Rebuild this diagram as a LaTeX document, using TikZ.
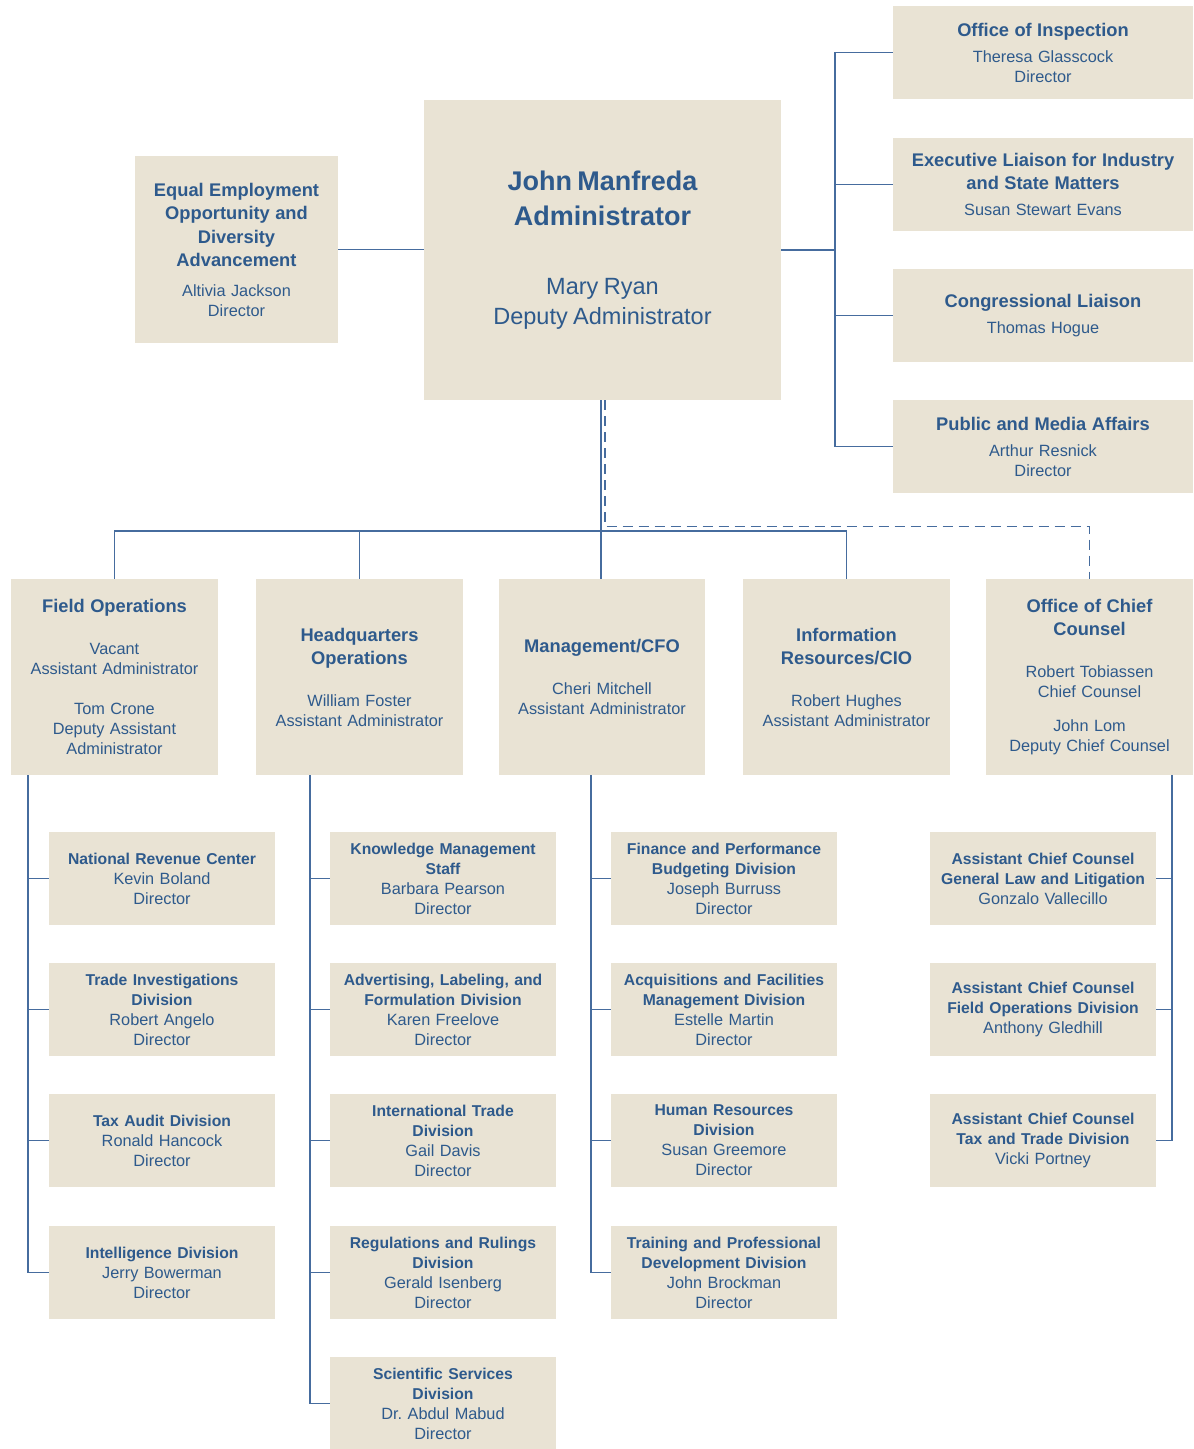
\documentclass[tikz,border=0pt]{standalone}
\usepackage{fontspec}
\setmainfont{Liberation Sans}
\usetikzlibrary{calc}
\definecolor{boxfill}{RGB}{233,227,212}
\definecolor{txtblue}{RGB}{46,90,140}
\definecolor{lnblue}{RGB}{70,108,158}
\newcommand\bodyfont{\fontsize{16.3bp}{20bp}\selectfont}
\newcommand\subhd[1]{{\fontsize{15.7bp}{20bp}\selectfont\bfseries #1}}
\newcommand\midhd[2]{{\fontsize{18.3bp}{23.5bp}\selectfont\bfseries #1\par}\vspace{#2}}
\begin{document}
\begin{tikzpicture}[x=1bp,y=-1bp,
  box/.style={fill=boxfill, text=txtblue, inner sep=0pt, align=center, font=\bodyfont},
  sz/.style 2 args={text width=#1bp, minimum height=#2bp},
  conn/.style={draw=lnblue, line width=1.4bp},
  dconn/.style={conn, dash pattern=on 10bp off 6bp}]
\useasboundingbox (0,0) rectangle (1193,1449);

% top row
\node[box, sz={357}{300}] (admin) at (602.5,250) {{\fontsize{27bp}{35bp}\selectfont\bfseries John Manfreda\\Administrator\par}\vspace{39bp}{\fontsize{23.5bp}{30bp}\selectfont Mary Ryan\\Deputy Administrator\par}};
\node[box, sz={203}{187}] (eeo) at (236.5,249.5) {\midhd{Equal Employment\\Opportunity and\\Diversity\\Advancement}{9.5bp}Altivia Jackson\\Director};
\node[box, sz={300}{93}] (insp) at (1043,52.5) {\midhd{Office of Inspection}{6bp}Theresa Glasscock\\Director};
\node[box, sz={300}{93}] (exec) at (1043,184.5) {\midhd{Executive Liaison for Industry\\and State Matters}{6bp}Susan Stewart Evans};
\node[box, sz={300}{93}] (cong) at (1043,315.5) {\midhd{Congressional Liaison}{6bp}Thomas Hogue};
\node[box, sz={300}{93}] (pub) at (1043,446.5) {\midhd{Public and Media Affairs}{6bp}Arthur Resnick\\Director};

% second row
\node[box, sz={207}{196}] (field) at (114.5,677) {\midhd{Field Operations}{21.5bp}Vacant\\Assistant Administrator\\[20bp]Tom Crone\\Deputy Assistant\\Administrator};
\node[box, sz={207}{196}] (hq) at (359.5,677) {\midhd{Headquarters\\Operations}{21.5bp}William Foster\\Assistant Administrator};
\node[box, sz={206}{196}] (mgmt) at (602,677) {\midhd{Management/CFO}{21.5bp}Cheri Mitchell\\Assistant Administrator};
\node[box, sz={207}{196}] (info) at (846.5,677) {\midhd{Information\\Resources/CIO}{21.5bp}Robert Hughes\\Assistant Administrator};
\node[box, sz={207}{196}] (chief) at (1089.5,677) {\midhd{Office of Chief\\Counsel}{21.5bp}Robert Tobiassen\\Chief Counsel\\[14bp]John Lom\\Deputy Chief Counsel};

% field operations column
\node[box, sz={226}{93}] (fo1) at (162,878.5) {\subhd{National Revenue Center}\\Kevin Boland\\Director};
\node[box, sz={226}{93}] (fo2) at (162,1009.5) {\subhd{Trade Investigations\\Division}\\Robert Angelo\\Director};
\node[box, sz={226}{93}] (fo3) at (162,1140.5) {\subhd{Tax Audit Division}\\Ronald Hancock\\Director};
\node[box, sz={226}{93}] (fo4) at (162,1272.5) {\subhd{Intelligence Division}\\Jerry Bowerman\\Director};

% headquarters column
\node[box, sz={226}{93}] (hq1) at (443,878.5) {\subhd{Knowledge Management\\Staff}\\Barbara Pearson\\Director};
\node[box, sz={226}{93}] (hq2) at (443,1009.5) {\subhd{Advertising, Labeling, and\\Formulation Division}\\Karen Freelove\\Director};
\node[box, sz={226}{93}] (hq3) at (443,1140.5) {\subhd{International Trade\\Division}\\Gail Davis\\Director};
\node[box, sz={226}{93}] (hq4) at (443,1272.5) {\subhd{Regulations and Rulings\\Division}\\Gerald Isenberg\\Director};
\node[box, sz={226}{93}] (hq5) at (443,1403.5) {\subhd{Scientific Services\\Division}\\Dr.\ Abdul Mabud\\Director};

% management column
\node[box, sz={226}{93}] (mg1) at (724,878.5) {\subhd{Finance and Performance\\Budgeting Division}\\Joseph Burruss\\Director};
\node[box, sz={226}{93}] (mg2) at (724,1009.5) {\subhd{Acquisitions and Facilities\\Management Division}\\Estelle Martin\\Director};
\node[box, sz={226}{93}] (mg3) at (724,1140.5) {\subhd{Human Resources\\Division}\\Susan Greemore\\Director};
\node[box, sz={226}{93}] (mg4) at (724,1272.5) {\subhd{Training and Professional\\Development Division}\\John Brockman\\Director};

% chief counsel column
\node[box, sz={226}{93}] (cc1) at (1043,878.5) {\subhd{Assistant Chief Counsel\\General Law and Litigation}\\Gonzalo Vallecillo};
\node[box, sz={226}{93}] (cc2) at (1043,1009.5) {\subhd{Assistant Chief Counsel\\Field Operations Division}\\Anthony Gledhill};
\node[box, sz={226}{93}] (cc3) at (1043,1140.5) {\subhd{Assistant Chief Counsel\\Tax and Trade Division}\\Vicki Portney};

% bus coordinates
\coordinate (rbus) at (835,250);
\coordinate (hbus) at (601,531);
\coordinate (dx) at (605,526.5);
\coordinate (fv) at (28,0);
\coordinate (hv) at (310,0);
\coordinate (mv) at (591,0);
\coordinate (cv) at (1172,0);

% top connectors
\draw[conn] (eeo.east) -- (eeo.east -| admin.west);
\draw[conn] (admin.east) -- (admin.east -| rbus);
\draw[conn] (insp.west) -| (pub.west -| rbus) -- (pub.west);
\draw[conn] (exec.west) -- (exec.west -| rbus);
\draw[conn] (cong.west) -- (cong.west -| rbus);

% admin to second row
\draw[conn] (admin.south -| hbus) -- (hbus);
\draw[conn] (field.north) |- (hbus) -| (info.north);
\draw[conn] (hq.north) -- (hq.north |- hbus);
\draw[conn] (hbus) -- (hbus |- mgmt.north);
\draw[dconn] (admin.south -| dx) -- (dx) -| (chief.north);

% columns
\draw[conn] (field.south -| fv) |- (fo4.west);
\foreach \n in {fo1,fo2,fo3} \draw[conn] (\n.west) -- (\n.west -| fv);
\draw[conn] (hq.south -| hv) |- (hq5.west);
\foreach \n in {hq1,hq2,hq3,hq4} \draw[conn] (\n.west) -- (\n.west -| hv);
\draw[conn] (mgmt.south -| mv) |- (mg4.west);
\foreach \n in {mg1,mg2,mg3} \draw[conn] (\n.west) -- (\n.west -| mv);
\draw[conn] (chief.south -| cv) |- (cc3.east);
\foreach \n in {cc1,cc2} \draw[conn] (\n.east) -- (\n.east -| cv);
\end{tikzpicture}
\end{document}
